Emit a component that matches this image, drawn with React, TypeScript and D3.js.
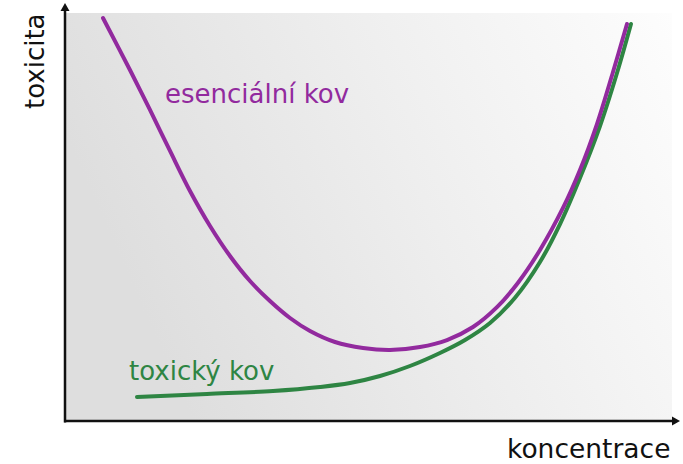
import React from "react";
import * as d3 from "d3";

// concentration (0-100) vs toxicity (0-100)
const essentialX = [6.28, 10.74, 14.05, 17.36, 20.66, 23.97, 27.27, 30.58, 33.88, 37.19, 40.5, 44.63, 49.26, 53.72, 58.68, 63.14, 67.44, 71.4, 74.88, 78.51, 82.31, 85.12, 87.93, 90.58, 92.89];
const essentialY = [98.77, 86.03, 76.23, 66.18, 56.37, 47.79, 40.44, 34.31, 29.41, 25.25, 22.06, 19.36, 17.89, 17.4, 18.14, 19.85, 23.04, 27.9, 33.9, 41.91, 52.21, 61.52, 72.79, 85.54, 97.3];

const toxicX = [11.9, 23.47, 34.38, 42.15, 47.11, 52.07, 57.02, 61.98, 66.12, 70.25, 74.38, 78.51, 81.82, 85.12, 88.43, 91.24, 93.55];
const toxicY = [5.88, 6.62, 7.35, 8.33, 9.31, 11.03, 13.48, 16.67, 19.85, 24.02, 30.2, 38.97, 48.28, 59.56, 72.3, 85.29, 97.3];

const labels = {
  essential: "esenciální kov",
  toxic: "toxický kov",
  xTitle: "koncentrace",
  yTitle: "toxicita",
};

const W = 683;
const H = 464;
const plot = { left: 65, right: 672, top: 13, bottom: 421 };

export default function App() {
  const x = d3.scaleLinear().domain([0, 100]).range([plot.left, plot.left + 605]);
  const y = d3.scaleLinear().domain([0, 100]).range([plot.bottom, plot.bottom - 408]);

  const line = d3
    .line<[number, number]>()
    .x((d) => x(d[0]))
    .y((d) => y(d[1]))
    .curve(d3.curveCatmullRom.alpha(0.5));

  const essential = essentialX.map((v, i) => [v, essentialY[i]] as [number, number]);
  const toxic = toxicX.map((v, i) => [v, toxicY[i]] as [number, number]);

  const purple = "#922a9e";
  const green = "#2e8543";
  const font = "'DejaVu Sans', Verdana, sans-serif";

  return (
    <svg
      width={W}
      height={H}
      style={{ position: "absolute", left: 0, top: 0, display: "block", background: "#fff" }}
    >
      <defs>
        <linearGradient id="bg" x1="0" y1="0.3" x2="1" y2="0">
          <stop offset="0" stopColor="#dedede" />
          <stop offset="0.5" stopColor="#eeeeee" />
          <stop offset="1" stopColor="#fdfdfd" />
        </linearGradient>
      </defs>
      <rect
        x={plot.left}
        y={plot.top}
        width={plot.right - plot.left}
        height={plot.bottom - plot.top}
        fill="url(#bg)"
      />

      <path d={line(toxic) || ""} fill="none" stroke={green} strokeWidth={4} strokeLinecap="round" />
      <path d={line(essential) || ""} fill="none" stroke={purple} strokeWidth={4} strokeLinecap="round" />

      {/* axes */}
      <line x1={plot.left} y1={plot.bottom + 1.5} x2={plot.left} y2={plot.top - 3} stroke="#111" strokeWidth={2.5} />
      <path
        d={`M${plot.left - 4.5},${plot.top - 2} L${plot.left},${plot.top - 10} L${plot.left + 4.5},${plot.top - 2} Z`}
        fill="#111"
      />
      <line x1={plot.left - 1} y1={plot.bottom} x2={plot.right + 1} y2={plot.bottom} stroke="#111" strokeWidth={2.5} />
      <path
        d={`M${plot.right},${plot.bottom - 4.5} L${plot.right + 8},${plot.bottom} L${plot.right},${plot.bottom + 4.5} Z`}
        fill="#111"
      />

      <text x={165} y={103} fontFamily={font} fontSize={26} fill={purple}>
        {labels.essential}
      </text>
      <text x={129} y={380} fontFamily={font} fontSize={26} fill={green}>
        {labels.toxic}
      </text>
      <text x={507} y={458} fontFamily={font} fontSize={26.5} fill="#111">
        {labels.xTitle}
      </text>
      <text
        transform="translate(44,109) rotate(-90)"
        fontFamily={font}
        fontSize={26}
        fill="#111"
      >
        {labels.yTitle}
      </text>
    </svg>
  );
}
